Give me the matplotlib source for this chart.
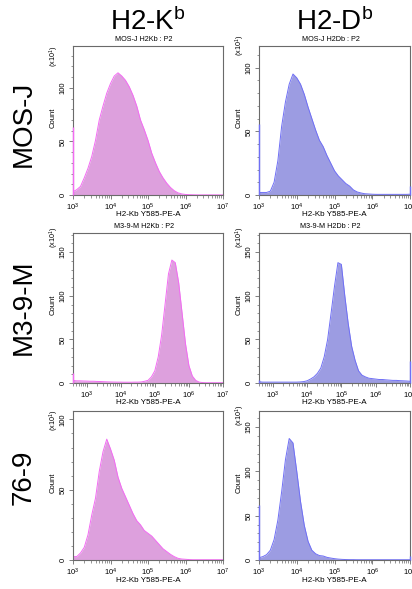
import numpy as np
import matplotlib
matplotlib.use("Agg")
import matplotlib.pyplot as plt
from matplotlib.ticker import FixedLocator, NullFormatter, MultipleLocator

plt.rcParams['font.family'] = ['Liberation Sans', 'DejaVu Sans']
plt.rcParams['mathtext.fontset'] = 'custom'
plt.rcParams['mathtext.rm'] = 'Liberation Sans'
plt.rcParams['mathtext.it'] = 'Liberation Sans'
plt.rcParams['mathtext.default'] = 'regular'

# ---------------- data ----------------
col_titles = [r"H2-K$^{\mathrm{b}}$", r"H2-D$^{\mathrm{b}}$"]
row_labels = ["MOS-J", "M3-9-M", "76-9"]
panel_titles = [["MOS-J H2Kb : P2", "MOS-J H2Db : P2"],
                ["M3-9-M H2Kb : P2", "M3-9-M H2Db : P2"],
                ["", ""]]
x_label = "H2-Kb Y585-PE-A"
y_label = "Count"
y_scale_note = r"(x10$^{1}$)"

# log10 lower limit of each panel's x axis (upper limit is 10^7)
x_log_min = [[3.0, 3.0], [2.6, 2.6], [3.0, 3.0]]
x_log_max = 7.0
y_max = [[139, 117], [172, 172], [106, 168]]
y_ticks = [[[0, 50, 100], [0, 50, 100]],
           [[0, 50, 100, 150], [0, 50, 100, 150]],
           [[0, 50, 100], [0, 50, 100, 150]]]

# histogram counts (x10), one value every 0.1 decade from x_log_min to 10^7
mosj_h2kb = [3, 5, 8, 16, 25, 36, 51, 70, 83, 95,
             104, 111, 114, 111, 107, 101, 93, 83, 70, 61,
             51, 39, 30, 22, 16, 11, 7, 4, 2, 1,
             0.5, 0.3, 0.2, 0.1, 0.1, 0.1, 0.1, 0.1, 0.1, 0.1, 0.1]
mosj_h2db = [2, 2, 2, 3, 10, 27, 54, 73, 87, 95,
             92, 87, 79, 69, 60, 51, 43, 38, 31, 25,
             19, 15, 12, 9, 7, 4, 2.4, 1.6, 1, 0.8,
             0.6, 0.5, 0.5, 0.5, 0.5, 0.5, 0.5, 0.5, 0.5, 0.5, 0.6]
m39m_h2kb = [3, 2.5, 2.5, 2.3,
             2.2, 2, 2, 1.8, 1.7, 1.5, 1.3, 1.2, 1.1, 1,
             1, 0.9, 0.9, 0.9, 1, 1, 1.2, 2, 3, 7,
             14, 30, 55, 90, 125, 141, 138, 115, 80, 45,
             20, 8, 3, 1, 0.5, 0.3, 0.3, 0.3, 0.3, 0.3, 0.3]
m39m_h2db = [1.5, 1, 1, 1,
             1, 1, 1, 1, 1, 1, 1, 1, 1.2, 1.6,
             2.5, 4.5, 7, 11, 17, 30, 50, 80, 111, 138,
             136, 100, 68, 42, 26, 14, 9, 7, 5.5, 5,
             4.5, 4, 4, 3.6, 3.3, 3, 3, 2.7, 2.5, 2.3, 2]
s769_h2kb = [2.4, 2.4, 5, 9, 18, 32, 44, 63, 77, 86,
             79, 71, 59, 51, 45, 39, 33, 28, 25, 21,
             19, 17, 14, 11, 8, 6, 4, 2.4, 1.2, 0.7,
             0.5, 0.3, 0.2, 0.2, 0.2, 0.2, 0.2, 0.2, 0.2, 0.2, 0.2]
s769_h2db = [2.6, 3.8, 6, 11, 23, 45, 77, 113, 137, 132,
             100, 66, 39, 21, 11, 7, 5, 4.5, 3, 2.2,
             1.5, 1, 0.7, 0.5, 0.4, 0.4, 0.3, 0.3, 0.3, 0.3,
             0.3, 0.3, 0.3, 0.3, 0.3, 0.3, 0.3, 0.3, 0.3, 0.3, 0.3]
counts = [[mosj_h2kb, mosj_h2db], [m39m_h2kb, m39m_h2db], [s769_h2kb, s769_h2db]]

# events piled up at the low / high edge of the scale
edge_low = [[63, 56], [11, 4], [0, 62]]
edge_high = [[0, 7], [0, 25], [0, 5]]

# ---------------- style ----------------
fill_cols = ["#DDA0DD", "#9C9CE2"]
line_cols = ["#F36BF3", "#6F6FF5"]
spine_col = "#6a6a6a"

W, H = 412, 589
fig = plt.figure(figsize=(W / 100, H / 100), dpi=100)

# axes boxes in pixels: (left, right) and (top, bottom)
col_x = [(73, 223), (259, 410)]
row_y = [(46, 195), (233, 383), (411, 560)]
scale_note_top = [[46, 35], [227, 227], [410, 405]]


def fx(px):
    return px / W


def fy(py):
    return 1 - py / H


for r in range(3):
    for c in range(2):
        x0, x1 = col_x[c]
        y0, y1 = row_y[r]
        ax = fig.add_axes([fx(x0), fy(y1), (x1 - x0) / W, (y1 - y0) / H])
        lo = x_log_min[r][c]
        vals = np.array(counts[r][c], dtype=float)
        xs = 10 ** np.linspace(lo, x_log_max, len(vals))
        ax.fill_between(xs, 0, vals, color=fill_cols[c], lw=0, zorder=2)
        ax.plot(xs, vals, color=line_cols[c], lw=0.7, zorder=3)
        if edge_low[r][c] > 0:
            ax.vlines(10 ** lo, 0, edge_low[r][c], color=line_cols[c], lw=1.0,
                      zorder=5, clip_on=False)
        if edge_high[r][c] > 0:
            ax.vlines(10 ** x_log_max, 0, edge_high[r][c], color=line_cols[c], lw=1.0,
                      zorder=5, clip_on=False)
        ax.set_xscale('log')
        ax.set_xlim(10 ** lo, 10 ** x_log_max)
        ax.set_ylim(0, y_max[r][c])

        for s in ax.spines.values():
            s.set_color(spine_col)
            s.set_linewidth(0.8)
            s.set_zorder(4)

        decades = [3, 4, 5, 6, 7]
        ax.xaxis.set_major_locator(FixedLocator([10.0 ** d for d in decades]))
        ax.set_xticklabels([r"10$^{%d}$" % d for d in decades])
        minors = [m * 10.0 ** d for d in range(2, 7) for m in range(2, 10)
                  if 10 ** lo <= m * 10.0 ** d <= 10 ** x_log_max]
        ax.xaxis.set_minor_locator(FixedLocator(minors))
        ax.xaxis.set_minor_formatter(NullFormatter())

        ax.yaxis.set_major_locator(FixedLocator(y_ticks[r][c]))
        ax.yaxis.set_minor_locator(MultipleLocator(10))
        ax.tick_params(axis='both', which='major', length=3, width=0.6,
                       color=spine_col, labelsize=5.5, pad=1.5)
        ax.tick_params(axis='both', which='minor', length=1.8, width=0.5, color=spine_col)
        ax.tick_params(axis='y', labelrotation=90)
        for lab in ax.get_yticklabels():
            lab.set_va('center')

        if panel_titles[r][c]:
            fig.text(fx((x0 + x1) / 2 - 4), fy(y0 - 3), panel_titles[r][c],
                     ha='center', va='bottom', fontsize=5.2)
        fig.text(fx((x0 + x1) / 2), fy(y1 + 20), x_label,
                 ha='center', va='center', fontsize=5.8)
        lab_x = x0 - 20 if c == 0 else x0 - 20
        fig.text(fx(lab_x), fy((y0 + y1) / 2 - 3), y_label, rotation=90,
                 ha='center', va='center', fontsize=5.5)
        fig.text(fx(lab_x + 1), fy(scale_note_top[r][c]), y_scale_note, rotation=90,
                 ha='center', va='top', fontsize=5.2)

# column titles
for c in range(2):
    x0, x1 = col_x[c]
    fig.text(fx((x0 + x1) / 2), fy(30), col_titles[c], ha='center', va='baseline',
             fontsize=20)

# row labels
row_centers = [124, 307, 477]
for r in range(3):
    fig.text(fx(24), fy(row_centers[r]), row_labels[r], rotation=90,
             ha='center', va='center', fontsize=20)

fig.savefig("out.png", dpi=100)
